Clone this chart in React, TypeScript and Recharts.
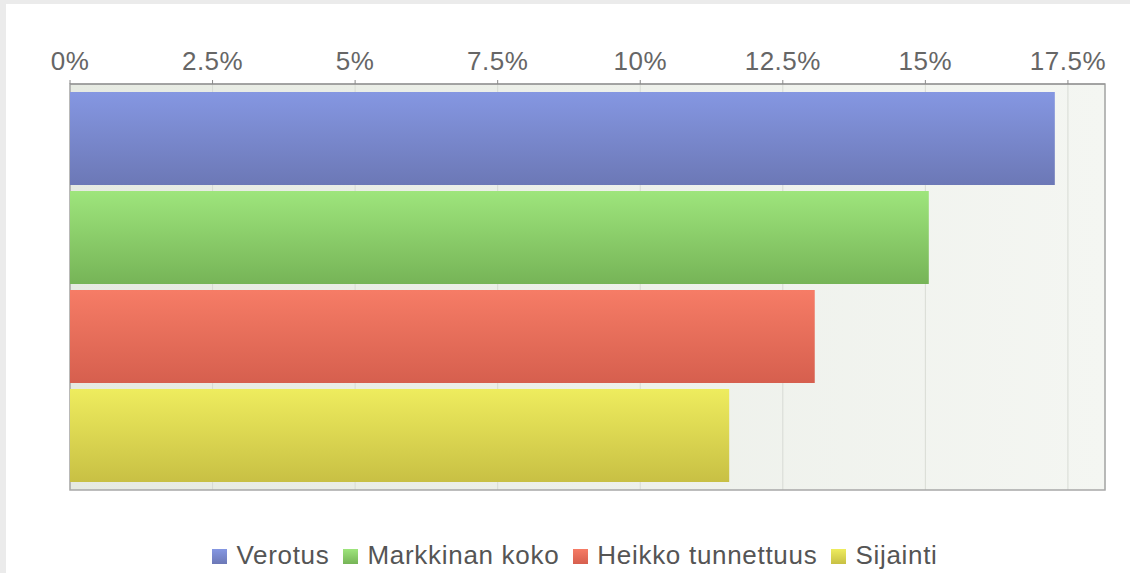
import React from "react";
import {
  BarChart,
  Bar,
  XAxis,
  YAxis,
  CartesianGrid,
  Legend,
  ReferenceArea,
} from "recharts";

const categories = ["Vastaus"];
const seriesNames = ["Verotus", "Markkinan koko", "Heikko tunnettuus", "Sijainti"];
const seriesKeys = ["verotus", "markkinanKoko", "heikkoTunnettuus", "sijainti"];
const verotus = [17.27];
const markkinanKoko = [15.06];
const heikkoTunnettuus = [13.06];
const sijainti = [11.56];
const tickValues = [0, 2.5, 5, 7.5, 10, 12.5, 15, 17.5];
const axisMax = 18.15;

const gradients = [
  { id: "gVerotus", top: "#8597e2", bottom: "#6c78b6", legend: "#7181c9" },
  { id: "gMarkkinan", top: "#9ee57c", bottom: "#76b457", legend: "#86c96a" },
  { id: "gHeikko", top: "#f67c66", bottom: "#d65f4e", legend: "#e46b59" },
  { id: "gSijainti", top: "#eeec5e", bottom: "#c8c044", legend: "#d6d050" },
];

const data = categories.map((c, i) => ({
  name: c,
  verotus: verotus[i],
  markkinanKoko: markkinanKoko[i],
  heikkoTunnettuus: heikkoTunnettuus[i],
  sijainti: sijainti[i],
}));

const fmt = (v: number) => `${v}%`;

const LegendContent = () => (
  <div
    style={{
      width: 1150,
      height: 30,
      display: "flex",
      justifyContent: "center",
      alignItems: "center",
      fontFamily: "'Liberation Sans', Arial, sans-serif",
      fontSize: 26,
      letterSpacing: 0.7,
      color: "#555555",
      lineHeight: "30px",
    }}
  >
    {seriesNames.map((n, i) => (
      <div
        key={n}
        style={{
          display: "flex",
          alignItems: "center",
          marginRight: i < seriesNames.length - 1 ? 14 : 0,
        }}
      >
        <span
          style={{
            display: "inline-block",
            width: 15,
            height: 15,
            background: `linear-gradient(${gradients[i].top}, ${gradients[i].bottom})`,
            marginRight: 9,
            marginTop: 3,
          }}
        />
        <span>{n}</span>
      </div>
    ))}
  </div>
);

export default function App() {
  return (
    <div
      style={{
        position: "absolute",
        left: 0,
        top: 0,
        width: 1130,
        height: 573,
        background: "#ebebeb",
        overflow: "hidden",
      }}
    >
      <div
        style={{
          position: "absolute",
          left: 6,
          top: 4,
          width: 1124,
          height: 569,
          background: "#ffffff",
        }}
      />
      <div style={{ position: "absolute", left: 0, top: 0 }}>
        <BarChart
          width={1130}
          height={573}
          data={data}
          layout="vertical"
          margin={{ top: 40, right: 25, left: 70, bottom: 3 }}
          barCategoryGap={8}
          barGap={6}
          style={{ fontFamily: "'Liberation Sans', Arial, sans-serif" }}
        >
          <defs>
            {gradients.map((g) => (
              <linearGradient key={g.id} id={g.id} x1="0" y1="0" x2="0" y2="1">
                <stop offset="0%" stopColor={g.top} />
                <stop offset="100%" stopColor={g.bottom} />
              </linearGradient>
            ))}
            <linearGradient id="bgGrad" x1="0" y1="0" x2="1" y2="0">
              <stop offset="0%" stopColor="#e6eae2" />
              <stop offset="100%" stopColor="#f4f6f2" />
            </linearGradient>
          </defs>
          <CartesianGrid
            horizontal={false}
            vertical={true}
            stroke="#d8dbd4"
            fill="url(#bgGrad)"
            fillOpacity={1}
          />
          <XAxis
            type="number"
            orientation="top"
            domain={[0, axisMax]}
            ticks={tickValues}
            tickFormatter={fmt}
            height={44}
            stroke="#8a8a8a"
            tickSize={4}
            tickMargin={10}
            tick={{ fill: "#666666", fontSize: 26, letterSpacing: 0.5 }}
            allowDataOverflow
          />
          <YAxis type="category" dataKey="name" hide />
          {seriesKeys.map((k, i) => (
            <Bar
              key={k}
              dataKey={k}
              name={seriesNames[i]}
              fill={`url(#${gradients[i].id})`}
              isAnimationActive={false}
              legendType="square"
            />
          ))}
          <ReferenceArea
            x1={0}
            x2={axisMax}
            fill="none"
            fillOpacity={0}
            stroke="#a8a8a8"
            strokeWidth={1.5}
            ifOverflow="extendDomain"
          />
          <Legend
            verticalAlign="bottom"
            align="center"
            content={LegendContent}
            wrapperStyle={{ paddingTop: 50, left: 0, width: 1150, height: 80, boxSizing: "border-box" }}
          />
        </BarChart>
      </div>
    </div>
  );
}
